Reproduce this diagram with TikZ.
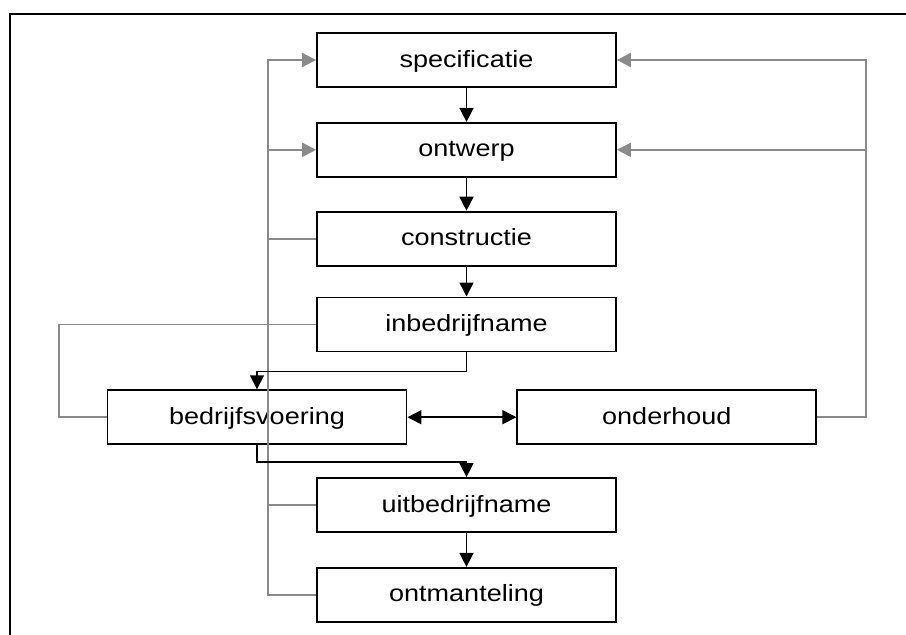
\documentclass[tikz,border=0pt]{standalone}
\usepackage{fontspec}
\setmainfont{Liberation Sans}[FakeStretch=1.15]
\usepackage{xcolor}
\usepackage{tikz}
\usetikzlibrary{arrows.meta,positioning}

\definecolor{feedgray}{HTML}{8A8A8A}

\begin{document}
\begin{tikzpicture}[
    x=1pt, y=-1pt,
    node distance=33pt,
    box/.style={rectangle, draw, line width=1.8pt, minimum width=299pt, minimum height=54pt, align=center, inner sep=0pt,
        text height=16.5pt, text depth=2.5pt, font=\fontsize{23.5}{27}\selectfont},
    flow/.style={line width=1.5pt, -{Triangle[length=14pt,width=14pt]}},
    feedback/.style={draw=feedgray, line width=1.8pt},
    feedarrow/.style={feedback, -{Triangle[length=14pt,width=14pt]}, color=feedgray}
]
    \useasboundingbox (0,0) rectangle (906,635);
    \draw[line width=2.3pt] (10,635) -- (10,14) -- (906,14);

    \node[box] (specificatie) at (466.5,60) {specificatie};
    \node[box, below=34pt of specificatie] (ontwerp) {ontwerp};
    \node[box, below=of ontwerp] (constructie) {constructie};
    \node[box, below=30pt of constructie] (inbedrijfname) {inbedrijfname};
    \node[box, below=37pt of inbedrijfname, xshift=-209.5pt] (bedrijfsvoering) {bedrijfsvoering};
    \node[box, right=109pt of bedrijfsvoering] (onderhoud) {onderhoud};
    \node[box, below=32pt of bedrijfsvoering, xshift=209.5pt] (uitbedrijfname) {uitbedrijfname};
    \node[box, below=34pt of uitbedrijfname] (ontmanteling) {ontmanteling};

    \coordinate (leftbus) at ([xshift=-48pt]specificatie.west);
    \coordinate (rightbus) at ([xshift=49pt]onderhoud.east);

    % feedback lines
    \draw[feedarrow] (ontmanteling.west) -- (ontmanteling.west -| leftbus) -- (specificatie.west -| leftbus) -- (specificatie.west);
    \draw[feedarrow] (ontwerp.west -| leftbus) -- (ontwerp.west);
    \draw[feedback] (constructie.west) -- (constructie.west -| leftbus);
    \draw[feedback] (uitbedrijfname.west) -- (uitbedrijfname.west -| leftbus);
    \draw[feedback] (inbedrijfname.west) -| ([xshift=-48pt]bedrijfsvoering.west) -- (bedrijfsvoering.west);
    \draw[feedarrow] (onderhoud.east) -- (onderhoud.east -| rightbus) -- (specificatie.east -| rightbus) -- (specificatie.east);
    \draw[feedarrow] (ontwerp.east -| rightbus) -- (ontwerp.east);

    % main flow
    \draw[flow] (specificatie) -- (ontwerp);
    \draw[flow] (ontwerp) -- (constructie);
    \draw[flow] (constructie) -- (inbedrijfname);
    \draw[flow] (inbedrijfname.south) -- ++(0,-19pt) -| (bedrijfsvoering.north);
    \draw[flow] (bedrijfsvoering.south) -- ++(0,-17pt) -| (uitbedrijfname.north);
    \draw[flow] (uitbedrijfname) -- (ontmanteling);
    \draw[line width=1.5pt, {Triangle[length=14pt,width=14pt]}-{Triangle[length=14pt,width=14pt]}] (bedrijfsvoering) -- (onderhoud);
\end{tikzpicture}
\end{document}
